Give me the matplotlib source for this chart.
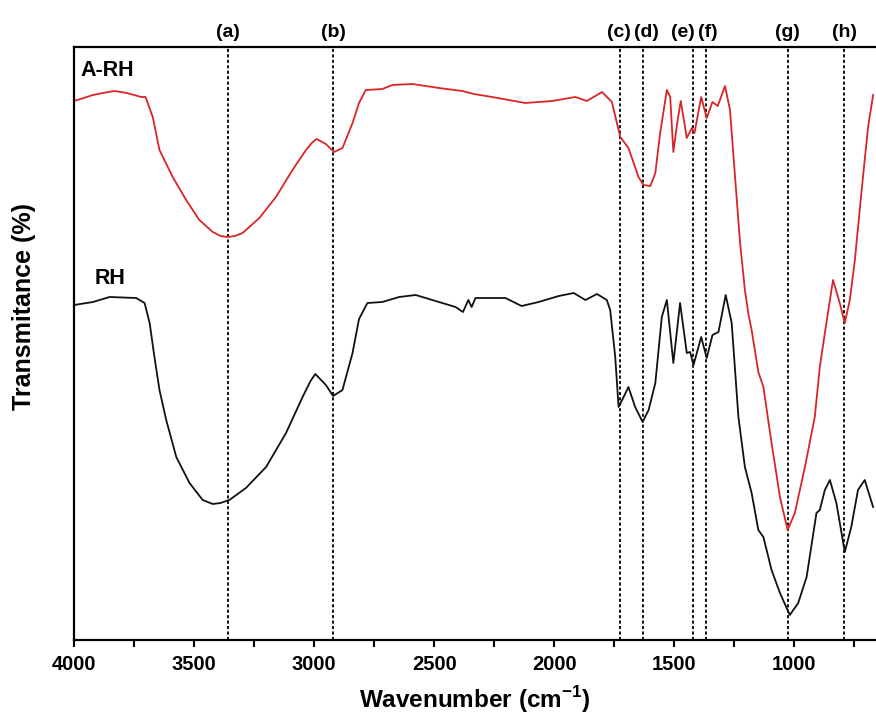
import matplotlib
matplotlib.use("Agg")
import matplotlib.pyplot as plt

plt.rcParams["font.family"] = ["Liberation Sans", "DejaVu Sans"]
plt.rcParams["font.weight"] = "bold"
plt.rcParams["mathtext.fontset"] = "custom"
plt.rcParams["mathtext.bf"] = "Liberation Sans:bold"

# --- A-RH spectrum (red), wavenumber in cm-1, transmittance in arbitrary units ---
arh_wn = [4000, 3960, 3921, 3880, 3831, 3780, 3720, 3702, 3672, 3644, 3589, 3533,
          3478, 3422, 3390, 3360, 3330, 3298, 3228, 3159, 3090, 3034, 3010, 2990,
          2951, 2917, 2882, 2840, 2813, 2785, 2716, 2674, 2591, 2480, 2383, 2335,
          2259, 2120, 2009, 1912, 1864, 1801, 1760, 1725, 1691, 1649, 1628, 1600,
          1579, 1559, 1531, 1517, 1504, 1486, 1473, 1448, 1427, 1416, 1388, 1365,
          1341, 1319, 1289, 1268, 1247, 1226, 1206, 1192, 1178, 1150, 1129, 1095,
          1060, 1028, 998, 956, 915, 894, 873, 839, 811, 790, 769, 748, 721, 693,
          672]
arh_t = [536, 539, 542, 544, 546, 544, 540, 540, 520, 487, 460, 437,
         417, 405, 401, 400, 401, 404, 419, 440, 467, 487, 494, 498,
         493, 485, 489, 514, 534, 547, 548, 552, 553, 549, 546, 543,
         540, 534, 536, 540, 536, 545, 535, 500, 489, 460, 452, 451,
         464, 504, 547, 540, 485, 517, 536, 499, 509, 504, 540, 519,
         535, 531, 551, 527, 460, 394, 347, 324, 307, 265, 250, 194,
         140, 107, 124, 170, 220, 270, 304, 357, 334, 314, 337, 377, 444, 510,
         542]

# --- RH spectrum (black) ---
rh_wn = [4000, 3921, 3852, 3741, 3706, 3685, 3665, 3644, 3616, 3574, 3519, 3464,
         3422, 3390, 3353, 3284, 3200, 3117, 3048, 3015, 2995, 2951, 2921, 2882,
         2840, 2813, 2778, 2716, 2646, 2577, 2508, 2411, 2380, 2358, 2344, 2328,
         2203, 2136, 2065, 1981, 1919, 1870, 1822, 1781, 1767, 1746, 1732, 1711,
         1691, 1663, 1632, 1607, 1579, 1552, 1531, 1504, 1476, 1448, 1434, 1420,
         1388, 1365, 1341, 1316, 1286, 1261, 1233, 1206, 1178, 1150, 1129, 1095,
         1060, 1019, 984, 949, 908, 894, 873, 852, 825, 790, 763, 735, 707, 672]
rh_t = [332, 335, 340, 339, 334, 314, 280, 247, 217, 180, 154, 137,
        133, 134, 137, 149, 170, 204, 240, 256, 263, 252, 241, 247,
        284, 318, 334, 335, 340, 342, 337, 330, 325, 337, 330, 339,
        339, 331, 335, 341, 344, 337, 343, 337, 327, 280, 230, 240,
        250, 230, 215, 227, 254, 320, 337, 274, 334, 284, 285, 272,
        300, 279, 302, 305, 342, 314, 220, 170, 144, 107, 100, 67,
        44, 22, 34, 60, 124, 127, 147, 157, 134, 85, 110, 147, 157, 130]

# --- marked bands ---
band_wn = [3357, 2921, 1727, 1632, 1424, 1366, 1025, 793]
band_names = ["(a)", "(b)", "(c)", "(d)", "(e)", "(f)", "(g)", "(h)"]
band_label_wn = [3357, 2921, 1732, 1618, 1464, 1362, 1030, 790]

fig = plt.figure(figsize=(8.76, 7.2), dpi=100)
ax = fig.add_axes([74 / 876, 80 / 720, 802 / 876, 593 / 720])

ax.plot(arh_wn, arh_t, color="#d92428", lw=1.3)
ax.plot(rh_wn, rh_t, color="#111111", lw=1.3)

for w in band_wn:
    ax.axvline(w, color="#111111", lw=1.4, ls=(0, (1.6, 1.2)), zorder=0)
for w, name in zip(band_label_wn, band_names):
    ax.text(w, 1.01, name, transform=ax.get_xaxis_transform(), ha="center", va="bottom",
            fontsize=14, fontweight="bold")

ax.text(0.008, 0.978, "A-RH", transform=ax.transAxes, fontsize=15.5, fontweight="bold",
        ha="left", va="top")
ax.text(0.026, 0.627, "RH", transform=ax.transAxes, fontsize=15.5, fontweight="bold",
        ha="left", va="top")

ax.set_xlim(4000, 660)
ax.set_ylim(-3, 590)
ax.set_xticks([4000, 3500, 3000, 2500, 2000, 1500, 1000])
ax.set_xticks([3750, 3250, 2750, 2250, 1750, 1250, 750], minor=True)
ax.set_yticks([])
ax.tick_params(axis="x", which="both", direction="out", length=5, width=1.5,
               labelsize=14.5, pad=6)
for lab in ax.get_xticklabels():
    lab.set_fontweight("bold")
for s in ["left", "bottom", "top"]:
    ax.spines[s].set_linewidth(1.6)
ax.spines["right"].set_visible(False)

fig.text(475 / 876, 1 - 700 / 720, r"Wavenumber (cm$^{\mathbf{-1}}$)", ha="center", va="center",
         fontsize=17.5, fontweight="bold")
fig.text(24 / 876, 1 - 306 / 720, "Transmitance (%)", rotation=90, ha="center", va="center",
         fontsize=18, fontweight="bold")

fig.savefig("out.png", dpi=100)
